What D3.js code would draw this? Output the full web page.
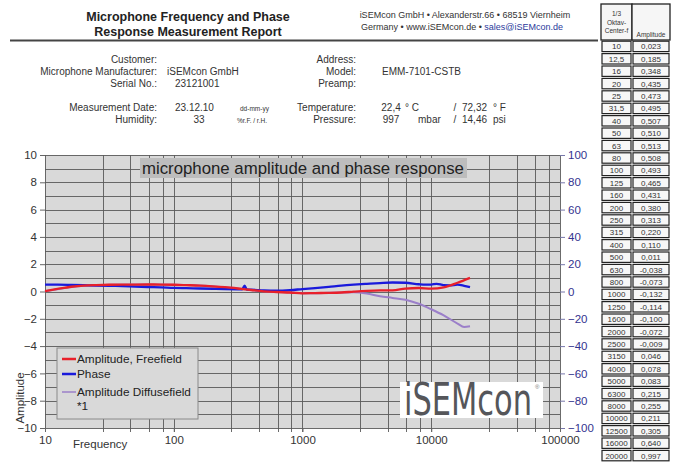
<!DOCTYPE html>
<html>
<head>
<meta charset="utf-8">
<script src="https://cdn.jsdelivr.net/npm/d3@7"></script>
<style>
  body { margin: 0; background: #fff; }
  svg { display: block; font-family: "Liberation Sans", Arial, sans-serif; }
</style>
</head>
<body>
<div class="c-chart"></div>
<script>
// 1/3 octave centre frequencies and freefield amplitude (from the table)
var octFreq = [10, 12.5, 16, 20, 25, 31.5, 40, 50, 63, 80, 100, 125, 160, 200, 250, 315, 400, 500,
    630, 800, 1000, 1250, 1600, 2000, 2500, 3150, 4000, 5000, 6300, 8000, 10000, 12500, 16000, 20000];
var octLabels = ["10", "12,5", "16", "20", "25", "31,5", "40", "50", "63", "80", "100", "125", "160",
    "200", "250", "315", "400", "500", "630", "800", "1000", "1250", "1600", "2000", "2500", "3150",
    "4000", "5000", "6300", "8000", "10000", "12500", "16000", "20000"];
var ampFree = [0.023, 0.185, 0.348, 0.435, 0.473, 0.495, 0.507, 0.510, 0.513, 0.508, 0.493, 0.465,
    0.431, 0.380, 0.313, 0.220, 0.110, 0.011, -0.038, -0.073, -0.132, -0.114, -0.100, -0.072, -0.009,
    0.046, 0.078, 0.083, 0.215, 0.255, 0.211, 0.305, 0.640, 0.997];
var ampLabels = ["0,023", "0,185", "0,348", "0,435", "0,473", "0,495", "0,507", "0,510", "0,513",
    "0,508", "0,493", "0,465", "0,431", "0,380", "0,313", "0,220", "0,110", "0,011", "-0,038", "-0,073",
    "-0,132", "-0,114", "-0,100", "-0,072", "-0,009", "0,046", "0,078", "0,083", "0,215", "0,255",
    "0,211", "0,305", "0,640", "0,997"];

// diffusefield amplitude
var diffFreq = [10, 20, 31.5, 50, 100, 200, 315, 500, 800, 1000, 1600, 2000, 2500, 3150, 4000, 5000,
    6300, 8000, 10000, 12500, 16000, 18000, 20000];
var ampDiff = [0.02, 0.43, 0.49, 0.51, 0.49, 0.38, 0.22, 0.01, -0.07, -0.13, -0.1, -0.08, -0.06,
    -0.15, -0.35, -0.47, -0.6, -0.9, -1.3, -1.75, -2.35, -2.6, -2.55];

// phase in degrees (right axis)
var phaseFreq = [10, 12.5, 16, 20, 25, 31.5, 40, 50, 63, 80, 100, 125, 160, 200, 250, 315, 340, 355,
    370, 400, 500, 630, 800, 1000, 1250, 1600, 2000, 2500, 3150, 4000, 5000, 6300, 8000, 9000, 10000,
    11000, 12000, 12500, 14000, 16000, 18000, 20000];
var phase = [5.1, 5.0, 4.8, 4.6, 4.4, 4.2, 3.9, 3.6, 3.3, 3.0, 2.6, 2.4, 2.2, 2.0, 1.8, 1.6, 1.5, 4.3,
    1.4, 1.3, 0.8, 0.6, 1.0, 1.8, 2.5, 3.4, 4.3, 5.0, 5.6, 6.2, 6.6, 6.4, 5.3, 5.0, 5.1, 5.6, 5.0, 4.6,
    4.5, 5.0, 4.2, 3.2];

var leftTicks = [-10, -8, -6, -4, -2, 0, 2, 4, 6, 8, 10];
var rightTicks = [-100, -80, -60, -40, -20, 0, 20, 40, 60, 80, 100];
var decades = [10, 100, 1000, 10000, 100000];
var minorSteps = [2.8, 4.6, 6.4, 8.2];

var legendNames = ["Amplitude, Freefield", "Phase", "Amplitude Diffusefield"];
var colors = { free: "#e8202a", phase: "#1a1adb", diff: "#9b7fc9" };

var W = 676, H = 464;
var plot = { left: 45, right: 560, top: 155, bottom: 428 };

var svg = d3.select(".c-chart").append("svg")
    .attr("width", W).attr("height", H);

svg.append("rect").attr("width", W).attr("height", H).attr("fill", "#fff");

// ---- header texts ----
var title = svg.append("text")
    .attr("x", 188).attr("text-anchor", "middle")
    .style("font-weight", "bold").style("font-size", "12.5px").attr("fill", "#222");
title.append("tspan").attr("x", 188).attr("y", 21).text("Microphone Frequency and Phase");
title.append("tspan").attr("x", 188).attr("y", 36).text("Response Measurement Report");

svg.append("line").attr("x1", 10).attr("x2", 598).attr("y1", 40.5).attr("y2", 40.5)
    .attr("stroke", "#444").attr("stroke-width", 2);

svg.append("text").attr("x", 465).attr("y", 18).attr("text-anchor", "middle")
    .style("font-size", "9px").attr("fill", "#333")
    .text("iSEMcon GmbH \u2022 Alexanderstr.66 \u2022 68519 Viernheim");
var l2 = svg.append("text").attr("x", 462).attr("y", 30).attr("text-anchor", "middle")
    .style("font-size", "9px").attr("fill", "#333");
l2.append("tspan").text("Germany \u2022 www.iSEMcon.de \u2022 ");
l2.append("tspan").attr("fill", "#2b3a9c").text("sales@iSEMcon.de");

function label(x, y, txt, anchor, size) {
    svg.append("text").attr("x", x).attr("y", y)
        .attr("text-anchor", anchor || "end")
        .style("font-size", (size || 10) + "px").attr("fill", "#333").text(txt);
}
label(157, 63, "Customer:");
label(157, 75, "Microphone Manufacturer:");
label(157, 87, "Serial No.:");
label(167, 75, "iSEMcon GmbH", "start");
label(175, 87, "23121001", "start");
label(157, 111, "Measurement Date:");
label(157, 123, "Humidity:");
label(175, 111, "23.12.10", "start");
label(199, 123, "33", "middle");
label(240, 111, "dd-mm-yy", "start", 6.5);
label(237, 123, "%r.F. / r.H.", "start", 6.5);

label(356, 63, "Address:");
label(356, 75, "Model:");
label(356, 87, "Preamp:");
label(382, 75, "EMM-7101-CSTB", "start");
label(356, 111, "Temperature:");
label(356, 123, "Pressure:");
label(391, 111, "22,4", "middle");
label(391, 123, "997", "middle");
label(405, 111, "\u00b0 C", "start");
label(418, 123, "mbar", "start");
label(455, 111, "/", "middle");
label(455, 123, "/", "middle");
label(462, 111, "72,32", "start");
label(462, 123, "14,46", "start");
label(493, 111, "\u00b0 F", "start");
label(493, 123, "psi", "start");

// ---- right table ----
var tbl = svg.append("g");
var colX = [601, 632, 670], rowTop = 40, rowH = 12.4;
tbl.append("rect").attr("x", colX[0]).attr("y", 4).attr("width", colX[1] - colX[0]).attr("height", rowTop - 4)
    .attr("fill", "#f6f6f6").attr("stroke", "#222").attr("stroke-width", 1.3);
tbl.append("rect").attr("x", colX[1]).attr("y", 4).attr("width", colX[2] - colX[1]).attr("height", rowTop - 4)
    .attr("fill", "#f6f6f6").attr("stroke", "#222").attr("stroke-width", 1.3);
["1/3", "Oktav-", "Center-f"].forEach(function (t, i) {
    tbl.append("text").attr("x", (colX[0] + colX[1]) / 2).attr("y", 16 + i * 8.5)
        .attr("text-anchor", "middle").style("font-size", "6.5px").attr("fill", "#333").text(t);
});
tbl.append("text").attr("x", (colX[1] + colX[2]) / 2).attr("y", 37)
    .attr("text-anchor", "middle").style("font-size", "6.5px").attr("fill", "#333").text("Amplitude");

octLabels.forEach(function (f, i) {
    var y = rowTop + i * rowH;
    [[colX[0], colX[1], f], [colX[1], colX[2], ampLabels[i]]].forEach(function (c) {
        tbl.append("rect").attr("x", c[0] + 1).attr("y", y + 1.2)
            .attr("width", c[1] - c[0] - 2).attr("height", rowH - 2)
            .attr("fill", "#f7f7f7").attr("stroke", "#222").attr("stroke-width", 1.2);
        tbl.append("text").attr("x", (c[0] + c[1]) / 2).attr("y", y + rowH - 3)
            .attr("text-anchor", "middle").style("font-size", "8px").attr("fill", "#333").text(c[2]);
    });
});

// ---- chart ----
var x = d3.scaleLog().domain([10, 100000]).range([plot.left, plot.right]);
var yL = d3.scaleLinear().domain([-10, 10]).range([plot.bottom, plot.top]);
var yR = d3.scaleLinear().domain([-100, 100]).range([plot.bottom, plot.top]);

var g = svg.append("g");
g.append("rect").attr("x", plot.left).attr("y", plot.top)
    .attr("width", plot.right - plot.left).attr("height", plot.bottom - plot.top)
    .attr("fill", "#d9d9d9");

var vLines = [];
decades.forEach(function (d, i) {
    vLines.push(d);
    if (i < decades.length - 1) minorSteps.forEach(function (m) { vLines.push(d * m); });
});

g.selectAll(".grid-x").data(vLines).enter().append("line")
    .attr("x1", function (d) { return Math.round(x(d)) + 0.5; })
    .attr("x2", function (d) { return Math.round(x(d)) + 0.5; })
    .attr("y1", plot.top).attr("y2", plot.bottom + 4)
    .attr("stroke", "#5a5a5a").attr("stroke-width", 0.9);

g.selectAll(".grid-y").data(d3.range(-10, 11)).enter().append("line")
    .attr("x1", plot.left).attr("x2", plot.right)
    .attr("y1", function (d) { return Math.round(yL(d)) + 0.5; })
    .attr("y2", function (d) { return Math.round(yL(d)) + 0.5; })
    .attr("stroke", "#5a5a5a").attr("stroke-width", 0.9);

// chart title box
g.append("rect").attr("x", 140).attr("y", 158).attr("width", 327).attr("height", 20).attr("fill", "#bdbdbd");
g.append("text").attr("x", 142).attr("y", 174).style("font-size", "16.8px").attr("fill", "#222")
    .text("microphone amplitude and phase response");

// axes
var axL = g.append("g").attr("transform", "translate(" + plot.left + ",0)")
    .call(d3.axisLeft(yL).tickValues(leftTicks).tickSize(5).tickPadding(3));
var axR = g.append("g").attr("transform", "translate(" + plot.right + ",0)")
    .call(d3.axisRight(yR).tickValues(rightTicks).tickSize(5).tickPadding(3));
var axB = g.append("g").attr("transform", "translate(0," + plot.bottom + ")")
    .call(d3.axisBottom(x).tickValues(decades).tickFormat(d3.format("d")).tickSize(4).tickPadding(4));
[axL, axR, axB].forEach(function (a) {
    a.select(".domain").remove();
    a.selectAll("text").style("font-size", "11.5px").style("font-family", "Liberation Sans, Arial, sans-serif");
});
axL.selectAll("line").attr("stroke", "#666");
axL.selectAll("text").attr("fill", "#333");
axB.selectAll("line").attr("stroke", "#666");
axB.selectAll("text").attr("fill", "#333");
axR.selectAll("line").attr("stroke", "#7777aa");
axR.selectAll("text").attr("fill", "#33338f");

g.append("text").attr("x", 73).attr("y", 448).style("font-size", "11.5px").attr("fill", "#333").text("Frequency");
g.append("text").attr("transform", "translate(24,398) rotate(-90)").attr("text-anchor", "middle")
    .style("font-size", "11.5px").attr("fill", "#333").text("Amplitude");

// curves
var lineL = d3.line().x(function (d) { return x(d[0]); }).y(function (d) { return yL(d[1]); })
    .curve(d3.curveMonotoneX);
var lineR = d3.line().x(function (d) { return x(d[0]); }).y(function (d) { return yR(d[1]); })
    .curve(d3.curveMonotoneX);

g.append("path").datum(d3.zip(diffFreq, ampDiff)).attr("d", lineL)
    .attr("fill", "none").attr("stroke", colors.diff).attr("stroke-width", 2);
g.append("path").datum(d3.zip(phaseFreq, phase)).attr("d", lineR)
    .attr("fill", "none").attr("stroke", colors.phase).attr("stroke-width", 2.3);
g.append("path").datum(d3.zip(octFreq, ampFree)).attr("d", lineL)
    .attr("fill", "none").attr("stroke", colors.free).attr("stroke-width", 2.3);

// legend
var lg = g.append("g").attr("transform", "translate(57,348)");
lg.append("rect").attr("width", 141).attr("height", 71).attr("fill", "#d9d9d9")
    .attr("stroke", "#8a8a8a").attr("stroke-width", 1);
var legColors = [colors.free, colors.phase, colors.diff];
var legY = [11, 26, 44];
legendNames.forEach(function (n, i) {
    lg.append("line").attr("x1", 5).attr("x2", 19).attr("y1", legY[i]).attr("y2", legY[i])
        .attr("stroke", legColors[i]).attr("stroke-width", i < 2 ? 2.5 : 1.5);
    lg.append("text").attr("x", 20).attr("y", legY[i] + 4).style("font-size", "11.8px")
        .attr("fill", "#222").text(n);
});
lg.append("text").attr("x", 20).attr("y", 62).style("font-size", "11.8px").attr("fill", "#222").text("*1");

// logo
var logo = g.append("g");
logo.append("rect").attr("x", 400).attr("y", 382).attr("width", 143).attr("height", 36).attr("fill", "#fff");
var logoText = logo.append("text").attr("x", 0).attr("y", 0)
    .style("font-size", "44px").style("font-family", "DejaVu Sans Condensed, DejaVu Sans, sans-serif")
    .attr("fill", "#55565a").text("iSEMcon");
var natW = logoText.node().getComputedTextLength();
logoText.attr("transform", "translate(404,415) scale(" + (128 / natW) + ",1)");
logo.append("text").attr("x", 535).attr("y", 389).style("font-size", "6px").attr("fill", "#777").text("\u00ae");
</script>
</body>
</html>
